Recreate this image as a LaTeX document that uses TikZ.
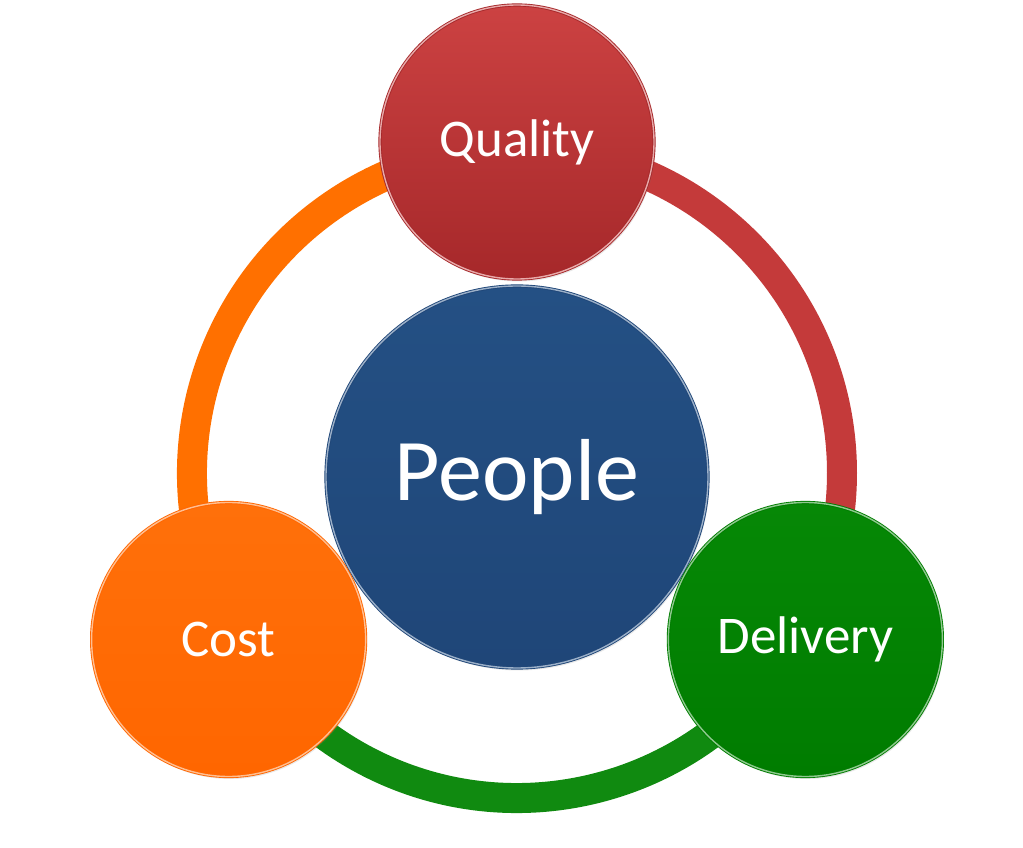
\documentclass[tikz,border=0pt]{standalone}
\usepackage{fontspec}
\setmainfont{Carlito}
\usetikzlibrary{shadows}
\definecolor{qualtop}{RGB}{204,66,66}
\definecolor{qualbot}{RGB}{166,40,42}
\definecolor{peopletop}{RGB}{36,80,132}
\definecolor{peoplebot}{RGB}{31,70,120}
\definecolor{costtop}{RGB}{255,112,10}
\definecolor{costbot}{RGB}{255,102,0}
\definecolor{delivtop}{RGB}{6,136,6}
\definecolor{delivbot}{RGB}{0,124,0}
\definecolor{ringred}{RGB}{196,58,58}
\definecolor{ringgreen}{RGB}{16,138,16}
\definecolor{ringorange}{RGB}{255,112,0}
\tikzstyle{disc} = [circle,minimum size=274pt,inner sep=0pt,text=white,line width=0.9pt,double distance=1.4pt,font=\fontsize{53}{60}\selectfont,drop shadow={shadow xshift=1.5pt,shadow yshift=-2.5pt,opacity=0.18}]
\tikzstyle{hub} = [disc,minimum size=382pt,font=\fontsize{88}{96}\selectfont]
\tikzstyle{ring} = [line width=30pt]

\begin{document}
\begin{tikzpicture}[x=1pt,y=1pt]

\useasboundingbox (-517,-375) rectangle (506,473);

\draw[ring,ringred] (90:325) arc[start angle=90,end angle=-30,radius=325];
\draw[ring,ringgreen] (-30:325) arc[start angle=-30,end angle=-150,radius=325];
\draw[ring,ringorange] (210:325) arc[start angle=210,end angle=90,radius=325];

\node[hub,top color=peopletop,bottom color=peoplebot,draw=peoplebot,double=peopletop!45!white] (people) at (0,-4) {People};
\node[disc,top color=qualtop,bottom color=qualbot,draw=qualbot,double=qualtop!45!white] (qual) at (90:331) {Quality};
\node[disc,top color=delivtop,bottom color=delivbot,draw=delivbot,double=delivtop!45!white] (deliv) at (-30:333) {Delivery};
\node[disc,top color=costtop,bottom color=costbot,draw=costbot,double=costtop!45!white] (cost) at (210:333) {Cost};

\end{tikzpicture}
\end{document}
